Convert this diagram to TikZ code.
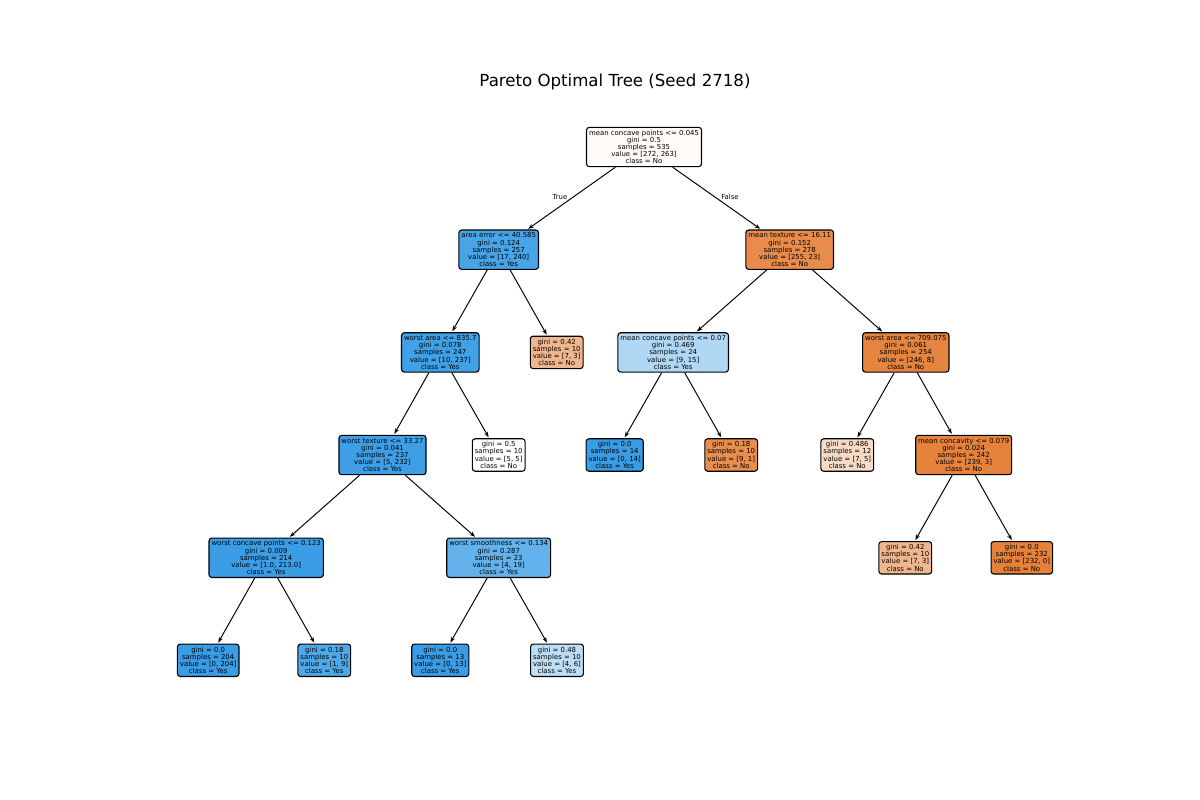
\documentclass[tikz,border=0pt]{standalone}
\usepackage{fontspec}
\setmainfont{DejaVu Sans}
\usetikzlibrary{arrows.meta}
\definecolor{cRoot}{RGB}{254,251,248}
\definecolor{cA}{RGB}{71,164,231}
\definecolor{cB}{RGB}{231,140,75}
\definecolor{cC}{RGB}{65,161,230}
\definecolor{cD}{RGB}{240,183,142}
\definecolor{cE}{RGB}{176,216,245}
\definecolor{cF}{RGB}{230,133,63}
\definecolor{cG}{RGB}{61,159,230}
\definecolor{cJ}{RGB}{232,143,79}
\definecolor{cK}{RGB}{248,219,198}
\definecolor{cL}{RGB}{229,131,60}
\definecolor{cM}{RGB}{58,157,229}
\definecolor{cN}{RGB}{99,178,235}
\definecolor{blueY}{RGB}{57,157,229}
\definecolor{orangeN}{RGB}{229,129,57}
\definecolor{cR}{RGB}{79,168,232}
\definecolor{cT}{RGB}{189,222,246}
\begin{document}
\begin{tikzpicture}[x=0.01in,y=-0.01in,
  box/.style={draw=black, line width=0.8pt, rounded corners=2pt, align=center,
    font=\fontsize{5}{5.2}\selectfont, inner xsep=1.8pt, inner ysep=0pt},
  split/.style={box, minimum height=28.4pt},
  leaf/.style={box, minimum height=23.4pt},
  edge/.style={-{Stealth[length=4pt,width=3pt]}, line width=0.7pt, shorten >=0.8pt},
  lab/.style={font=\fontsize{5}{6}\selectfont, inner sep=0pt}]
\useasboundingbox (0,0) rectangle (1200,800);
\node[font=\fontsize{12}{14}\selectfont] (title) at (615,82) {Pareto Optimal Tree (Seed 2718)};

\node[split, fill=cRoot] (root) at (644,147) {mean concave points <= 0.045\\gini = 0.5\\samples = 535\\value = [272, 263]\\class = No};

\node[split, fill=cA] (A) at (498.7,249.7) {area error <= 40.585\\gini = 0.124\\samples = 257\\value = [17, 240]\\class = Yes};
\node[split, fill=cB] (B) at (789.7,249.7) {mean texture <= 16.11\\gini = 0.152\\samples = 278\\value = [255, 23]\\class = No};

\node[split, fill=cC] (C) at (440.3,352.4) {worst area <= 835.7\\gini = 0.078\\samples = 247\\value = [10, 237]\\class = Yes};
\node[leaf, fill=cD] (D) at (556.7,352.4) {gini = 0.42\\samples = 10\\value = [7, 3]\\class = No};
\node[split, fill=cE] (E) at (673.2,352.4) {mean concave points <= 0.07\\gini = 0.469\\samples = 24\\value = [9, 15]\\class = Yes};
\node[split, fill=cF] (F) at (905.8,352.4) {worst area <= 709.075\\gini = 0.061\\samples = 254\\value = [246, 8]\\class = No};

\node[split, fill=cG] (G) at (382.5,455) {worst texture <= 33.27\\gini = 0.041\\samples = 237\\value = [5, 232]\\class = Yes};
\node[leaf, fill=white] (H) at (498.7,455) {gini = 0.5\\samples = 10\\value = [5, 5]\\class = No};
\node[leaf, fill=blueY] (I) at (614.7,455) {gini = 0.0\\samples = 14\\value = [0, 14]\\class = Yes};
\node[leaf, fill=cJ] (J) at (731.2,455) {gini = 0.18\\samples = 10\\value = [9, 1]\\class = No};
\node[leaf, fill=cK] (K) at (847.3,455) {gini = 0.486\\samples = 12\\value = [7, 5]\\class = No};
\node[split, fill=cL] (L) at (963.7,455) {mean concavity <= 0.079\\gini = 0.024\\samples = 242\\value = [239, 3]\\class = No};

\node[split, fill=cM] (M) at (266.2,557.8) {worst concave points <= 0.123\\gini = 0.009\\samples = 214\\value = [1.0, 213.0]\\class = Yes};
\node[split, fill=cN] (N) at (498.7,557.8) {worst smoothness <= 0.134\\gini = 0.287\\samples = 23\\value = [4, 19]\\class = Yes};
\node[leaf, fill=cD] (O) at (905.3,557.8) {gini = 0.42\\samples = 10\\value = [7, 3]\\class = No};
\node[leaf, fill=orangeN] (P) at (1021.8,557.8) {gini = 0.0\\samples = 232\\value = [232, 0]\\class = No};

\node[leaf, fill=blueY] (Q) at (208.2,660.3) {gini = 0.0\\samples = 204\\value = [0, 204]\\class = Yes};
\node[leaf, fill=cR] (R) at (324.3,660.3) {gini = 0.18\\samples = 10\\value = [1, 9]\\class = Yes};
\node[leaf, fill=blueY] (S) at (440.3,660.3) {gini = 0.0\\samples = 13\\value = [0, 13]\\class = Yes};
\node[leaf, fill=cT] (T) at (557,660.3) {gini = 0.48\\samples = 10\\value = [4, 6]\\class = Yes};

\foreach \p/\c in {root/A, root/B, A/C, A/D, B/E, B/F, C/G, C/H, E/I, E/J, F/K, F/L, G/M, G/N, L/O, L/P, M/Q, M/R, N/S, N/T}
  \draw[edge] (\p) -- (\c);

\node[lab] (true) at (560,196.7) {True};
\node[lab] (false) at (730,196.7) {False};
\end{tikzpicture}
\end{document}
